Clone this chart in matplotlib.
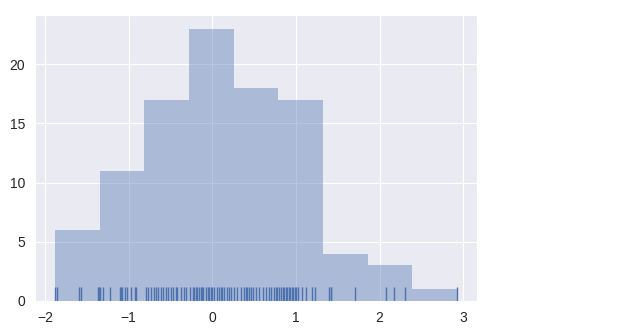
#IMPORT LIBRARIES
import numpy as np
import matplotlib
matplotlib.use("Agg")
import matplotlib.pyplot as plt
import seaborn as sns

bin1 = [-1.880, -1.860, -1.600, -1.570, -1.367, -1.355]
bin2 = [-1.340, -1.311, -1.221, -1.101, -1.093, -1.081, -1.042, -1.021, -0.974, -0.922, -0.916]
bin3 = [-0.795, -0.767, -0.735, -0.703, -0.675, -0.655, -0.616, -0.595, -0.556, -0.529,
        -0.497, -0.465, -0.437, -0.417, -0.378, -0.341, -0.318]
bin4 = [-0.264, -0.237, -0.218, -0.198, -0.178, -0.159, -0.138, -0.121, -0.106, -0.079,
        -0.058, -0.037, -0.019, -0.001, 0.020, 0.053, 0.080, 0.100, 0.112, 0.140,
        0.172, 0.199, 0.226]
bin5 = [0.259, 0.300, 0.339, 0.375, 0.399, 0.416, 0.434, 0.458, 0.482, 0.518,
        0.557, 0.601, 0.637, 0.677, 0.703, 0.733, 0.757, 0.774]
bin6 = [0.792, 0.816, 0.840, 0.858, 0.876, 0.894, 0.912, 0.930, 0.947, 0.965,
        0.983, 1.001, 1.019, 1.075, 1.115, 1.195, 1.222]
bin7 = [1.393, 1.413, 1.421, 1.711]
bin8 = [2.081, 2.177, 2.308]
bin9 = [2.925]
n_bins = 9

x = np.array(bin1 + bin2 + bin3 + bin4 + bin5 + bin6 + bin7 + bin8 + bin9)

#STYLE
sns.set_style("darkgrid")
plt.rcParams['font.family'] = ['Liberation Sans', 'DejaVu Sans']
blue = "#4C72B0"

#FIGURE LAYOUT
fig = plt.figure(figsize=(6.2, 3.34), dpi=100)
ax = fig.add_axes([0.0565, 0.099, 0.713, 0.856])

#HISTOGRAM
ax.hist(x, bins=n_bins, color=blue, alpha=0.4, edgecolor="none", lw=0)

#RUG
ax.vlines(x, 0, 0.05, transform=ax.get_xaxis_transform(), color=blue, lw=1)

#TICKS
ax.set_xticks([-2, -1, 0, 1, 2, 3])
ax.set_xticklabels(["\u22122", "\u22121", "0", "1", "2", "3"])
ax.set_yticks([0, 5, 10, 15, 20])
ax.tick_params(labelsize=10, colors="#262626")

fig.savefig("out.png", dpi=100)
